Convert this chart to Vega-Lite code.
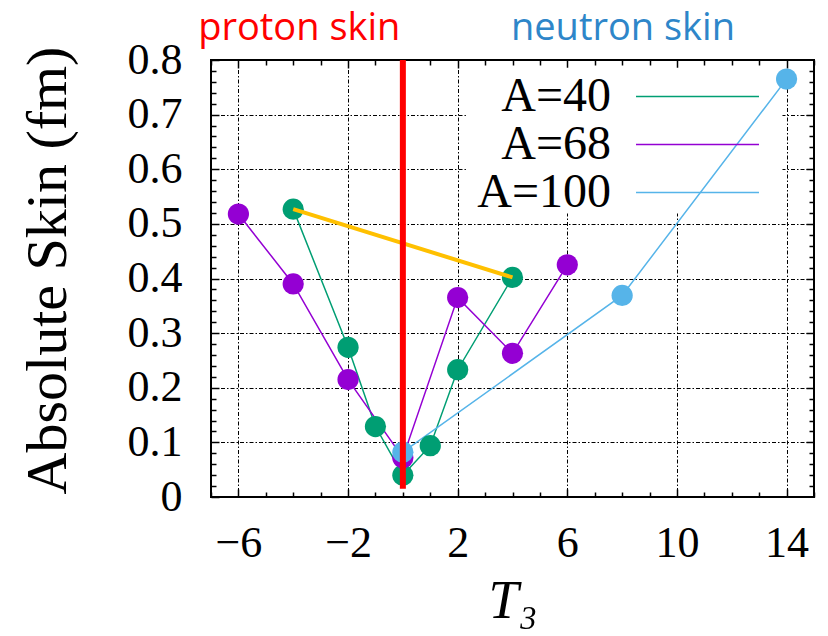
{
  "$schema": "https://vega.github.io/schema/vega-lite/v6.json",
  "width": 603,
  "height": 437,
  "autosize": {"type": "none"},
  "padding": {"left": 211, "top": 60, "right": 14, "bottom": 139},
  "background": "white",
  "config": {
    "view": {"stroke": "black", "strokeWidth": 2},
    "axis": {"domain": false, "tickColor": "black", "tickWidth": 1.5, "labelColor": "black", "titleColor": "black", "titleFontWeight": "normal"}
  },
  "datasets": {
    "skin": [
      {"series": "A=40", "T3": -4, "skin": 0.527},
      {"series": "A=40", "T3": -2, "skin": 0.274},
      {"series": "A=40", "T3": -1, "skin": 0.129},
      {"series": "A=40", "T3": 0, "skin": 0.040},
      {"series": "A=40", "T3": 1, "skin": 0.094},
      {"series": "A=40", "T3": 2, "skin": 0.233},
      {"series": "A=40", "T3": 4, "skin": 0.402},
      {"series": "A=68", "T3": -6, "skin": 0.518},
      {"series": "A=68", "T3": -4, "skin": 0.390},
      {"series": "A=68", "T3": -2, "skin": 0.215},
      {"series": "A=68", "T3": 0, "skin": 0.072},
      {"series": "A=68", "T3": 2, "skin": 0.365},
      {"series": "A=68", "T3": 4, "skin": 0.263},
      {"series": "A=68", "T3": 6, "skin": 0.425},
      {"series": "A=100", "T3": 0, "skin": 0.082},
      {"series": "A=100", "T3": 8, "skin": 0.369},
      {"series": "A=100", "T3": 14, "skin": 0.765}
    ],
    "link": [
      {"T3": -4, "skin": 0.527},
      {"T3": 4, "skin": 0.402}
    ],
    "single": [{}]
  },
  "resolve": {"axis": {"x": "independent", "y": "independent"}},
  "layer": [
    {
      "data": {"name": "single"},
      "mark": {"type": "rect", "fill": "white"},
      "encoding": {
        "x": {
          "datum": 2.3, "type": "quantitative",
          "scale": {"domain": [-7, 15], "nice": false, "zero": false},
          "axis": {
            "orient": "bottom", "values": [-6, -2, 2, 6, 10, 14], "tickSize": -8,
            "labelExpr": "replace(format(datum.value, 'd'), '-', '\u2212')",
            "labelFont": "Liberation Serif", "labelFontSize": 44, "labelPadding": 32,
            "labelOverlap": false, "labelFlush": false, "labelBound": false,
            "grid": true, "gridColor": "black", "gridWidth": 1, "gridDash": [4, 2, 1.5, 2],
            "title": "T\u2083", "titleFont": "Liberation Serif", "titleFontStyle": "italic", "titleFontSize": 54, "titlePadding": 9
          }
        },
        "x2": {"datum": 13.85},
        "y": {
          "datum": 0.519, "type": "quantitative",
          "scale": {"domain": [0, 0.8], "nice": false, "zero": false},
          "axis": {
            "orient": "left", "values": [0, 0.1, 0.2, 0.3, 0.4, 0.5, 0.6, 0.7, 0.8], "tickSize": -8,
            "labelExpr": "datum.value == 0 ? '0' : format(datum.value, '.1f')",
            "labelFont": "Liberation Serif", "labelFontSize": 44, "labelPadding": 37,
            "labelOverlap": false, "labelFlush": false, "labelBound": false,
            "grid": true, "gridColor": "black", "gridWidth": 1, "gridDash": [4, 2, 1.5, 2],
            "title": "Absolute Skin (fm)", "titleFont": "Liberation Serif", "titleFontSize": 58, "titlePadding": 50, "titleY": 210
          }
        },
        "y2": {"datum": 0.786}
      }
    },
    {
      "data": {"name": "skin"},
      "mark": {"type": "line", "strokeWidth": 1.5},
      "encoding": {
        "x": {
          "field": "T3", "type": "quantitative",
          "axis": {"orient": "bottom", "values": [-7, -5, -4, -3, -1, 0, 1, 3, 4, 5, 7, 8, 9, 11, 12, 13, 15], "tickSize": -5, "labels": false, "grid": false, "title": null}
        },
        "y": {
          "field": "skin", "type": "quantitative",
          "axis": {"orient": "left", "values": [0.02, 0.04, 0.06, 0.08, 0.12, 0.14, 0.16, 0.18, 0.22, 0.24, 0.26, 0.28, 0.32, 0.34, 0.36, 0.38, 0.42, 0.44, 0.46, 0.48, 0.52, 0.54, 0.56, 0.58, 0.62, 0.64, 0.66, 0.68, 0.72, 0.74, 0.76, 0.78], "tickSize": -5, "labels": false, "grid": false, "title": null}
        },
        "color": {
          "field": "series", "type": "nominal",
          "scale": {"domain": ["A=40", "A=68", "A=100"], "range": ["#009E73", "#9400D3", "#56B4E9"]},
          "legend": {
            "orient": "none", "legendX": 462.5, "legendY": 12.5, "padding": 0,
            "title": null, "symbolType": "M-5,0H5", "symbolSize": 605, "symbolStrokeWidth": 1.5,
            "labelAlign": "right", "labelOffset": -110.5, "labelLimit": 0,
            "labelFont": "Liberation Serif", "labelFontSize": 48, "labelColor": "black",
            "rowPadding": -2
          }
        },
        "order": {"field": "T3", "type": "quantitative"}
      }
    },
    {
      "data": {"name": "skin"},
      "mark": {"type": "point", "filled": true, "opacity": 1, "size": 450, "shape": "circle"},
      "encoding": {
        "x": {
          "field": "T3", "type": "quantitative",
          "axis": {"orient": "top", "values": [-6, -2, 2, 6, 10, 14], "tickSize": -8, "labels": false, "grid": false, "title": null}
        },
        "y": {
          "field": "skin", "type": "quantitative",
          "axis": {"orient": "right", "values": [0.1, 0.2, 0.3, 0.4, 0.5, 0.6, 0.7], "tickSize": -8, "labels": false, "grid": false, "title": null}
        },
        "color": {"field": "series", "type": "nominal", "legend": null}
      }
    },
    {
      "data": {"name": "link"},
      "mark": {"type": "line", "color": "#FFC000", "strokeWidth": 4},
      "encoding": {
        "x": {
          "field": "T3", "type": "quantitative",
          "axis": {"orient": "top", "values": [-7, -5, -4, -3, -1, 0, 1, 3, 4, 5, 7, 8, 9, 11, 12, 13, 15], "tickSize": -5, "labels": false, "grid": false, "title": null}
        },
        "y": {
          "field": "skin", "type": "quantitative",
          "axis": {"orient": "right", "values": [0.02, 0.04, 0.06, 0.08, 0.12, 0.14, 0.16, 0.18, 0.22, 0.24, 0.26, 0.28, 0.32, 0.34, 0.36, 0.38, 0.42, 0.44, 0.46, 0.48, 0.52, 0.54, 0.56, 0.58, 0.62, 0.64, 0.66, 0.68, 0.72, 0.74, 0.76, 0.78], "tickSize": -5, "labels": false, "grid": false, "title": null}
        }
      }
    },
    {
      "data": {"name": "single"},
      "mark": {"type": "rule", "color": "#FF0000", "strokeWidth": 6},
      "encoding": {
        "x": {"datum": 0, "type": "quantitative", "axis": null},
        "y": {"datum": 0.015, "type": "quantitative", "axis": null},
        "y2": {"datum": 0.8}
      }
    },
    {
      "data": {"name": "single"},
      "mark": {"type": "text", "text": "proton skin", "font": "Open Sans", "fontSize": 38, "color": "#FF0000", "align": "center", "baseline": "alphabetic"},
      "encoding": {
        "x": {"datum": -3.78, "type": "quantitative", "axis": null},
        "y": {"datum": 0.8366, "type": "quantitative", "axis": null}
      }
    },
    {
      "data": {"name": "single"},
      "mark": {"type": "text", "text": "neutron skin", "font": "Open Sans", "fontSize": 38, "color": "#2E86C9", "align": "center", "baseline": "alphabetic"},
      "encoding": {
        "x": {"datum": 8.03, "type": "quantitative", "axis": null},
        "y": {"datum": 0.8366, "type": "quantitative", "axis": null}
      }
    }
  ]
}
